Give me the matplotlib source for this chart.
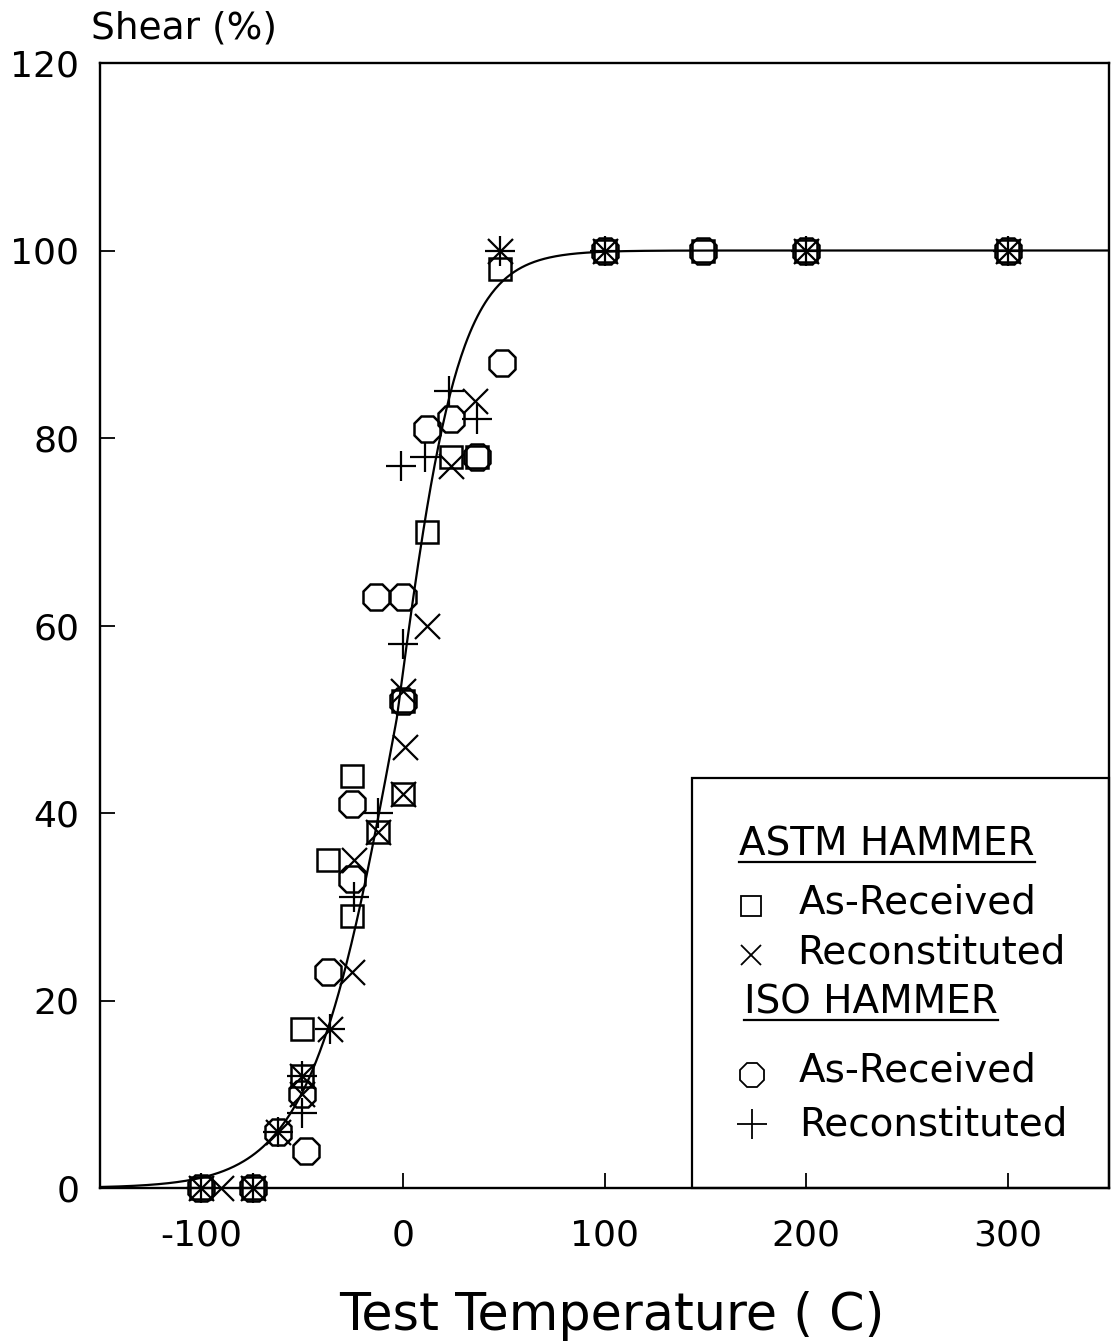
import numpy as np
import matplotlib
matplotlib.use("Agg")
import matplotlib.pyplot as plt
from matplotlib.patches import Rectangle

# ---------------- data ----------------
astm_ar_T = [-100, -74, -50, -50, -37, -25, -25, -12, 0, 0, 12, 24, 37, 48, 100, 149, 200, 300]
astm_ar_S = [0, 0, 17, 12, 35, 44, 29, 38, 42, 52, 70, 78, 78, 98, 100, 100, 100, 100]

astm_rc_T = [-100, -90, -74, -62, -50, -50, -36, -25, -24, -12, 0, 1, 0, 12, 24, 36, 48, 100, 200, 300]
astm_rc_S = [0, 0, 0, 6, 12, 10, 17, 23, 35, 38, 42, 47, 53, 60, 77, 84, 100, 100, 100, 100]

iso_ar_T = [-100, -74, -62, -48, -50, -37, -25, -25, -13, 0, 0, 12, 24, 37, 49, 100, 149, 200, 300]
iso_ar_S = [0, 0, 6, 4, 10, 23, 33, 41, 63, 63, 52, 81, 82, 78, 88, 100, 100, 100, 100]

iso_rc_T = [-100, -74, -62, -50, -50, -36, -24, -12, 0, -1, 11, 23, 37, 48, 100, 200, 300]
iso_rc_S = [0, 0, 6, 12, 8, 17, 31, 40, 58, 77, 78, 85, 82, 100, 100, 100, 100]

# tanh transition-curve fit parameters (lower shelf, upper shelf, mid temperature,
# half-width below and above the mid temperature)
fit_lower, fit_upper, fit_T0 = 0.0, 100.0, -3.0
fit_C_low, fit_C_high = 43.0, 31.0

x_ticks = [-100, 0, 100, 200, 300]
y_ticks = [0, 20, 40, 60, 80, 100, 120]

# ---------------- figure ----------------
W, H = 1113, 1343
plt.rcParams['font.family'] = ["DejaVu Sans"]
plt.rcParams['axes.unicode_minus'] = False
fig = plt.figure(figsize=(W / 100, H / 100), dpi=100)

L, R, B, T = 100, 1109, 1188, 63
ax = fig.add_axes([L / W, 1 - B / H, (R - L) / W, (B - T) / H])
ax.set_xlim(-150, 350)
ax.set_ylim(0, 120)

for s in ax.spines.values():
    s.set_linewidth(1.7)

ax.set_xticks(x_ticks)
ax.set_yticks(y_ticks)
ax.tick_params(direction='in', length=11, width=1.3, labelsize=26, top=False, right=False)
ax.tick_params(axis='x', pad=22)
ax.tick_params(axis='y', pad=15)

# fitted curve
Tc = np.linspace(-150, 350, 800)
Cc = np.where(Tc < fit_T0, fit_C_low, fit_C_high)
Sc = fit_lower + (fit_upper - fit_lower) / 2 * (1 + np.tanh((Tc - fit_T0) / Cc))
ax.plot(Tc, Sc, color='black', lw=1.6, zorder=2)

mk = dict(linestyle='none', color='black', zorder=3, clip_on=False)
ax.plot(astm_ar_T, astm_ar_S, marker='s', ms=15.5, mfc='none', mew=1.8, **mk)
ax.plot(astm_rc_T, astm_rc_S, marker='x', ms=18, mew=1.6, **mk)
ax.plot(iso_ar_T, iso_ar_S, marker='8', ms=21, mfc='none', mew=1.8, **mk)
ax.plot(iso_rc_T, iso_rc_S, marker='+', ms=22, mew=1.6, **mk)

# ---------------- legend box ----------------
def fx(px):
    return px / W

def fy(py):
    return 1 - py / H

leg_box = Rectangle((fx(692), fy(1188)), fx(1109) - fx(692), fy(778) - fy(1188),
                    transform=fig.transFigure, fill=False, lw=1.6, ec='black', zorder=5)
fig.add_artist(leg_box)

lfs = 28
hdr1 = fig.text(fx(739), fy(845), "ASTM HAMMER", fontsize=lfs, va='center', ha='left')
hdr2 = fig.text(fx(744), fy(1003), "ISO HAMMER", fontsize=lfs, va='center', ha='left')
fig.text(fx(799), fy(903), "As-Received", fontsize=lfs, va='center', ha='left')
fig.text(fx(797), fy(953), "Reconstituted", fontsize=lfs, va='center', ha='left')
fig.text(fx(799), fy(1071), "As-Received", fontsize=lfs, va='center', ha='left')
fig.text(fx(799), fy(1124), "Reconstituted", fontsize=lfs, va='center', ha='left')

lm = dict(transform=fig.transFigure, color='black', linestyle='none', clip_on=False)
fig.add_artist(plt.Line2D([fx(751)], [fy(906)], marker='s', ms=14, mfc='none', mew=1.3, **lm))
fig.add_artist(plt.Line2D([fx(751)], [fy(955)], marker='x', ms=15, mew=1.3, **lm))
fig.add_artist(plt.Line2D([fx(752)], [fy(1075)], marker='8', ms=18, mfc='none', mew=1.3, **lm))
fig.add_artist(plt.Line2D([fx(752)], [fy(1124)], marker='+', ms=22, mew=1.3, **lm))

# underline headers
fig.canvas.draw()
rend = fig.canvas.get_renderer()
for h, uy in ((hdr1, 862), (hdr2, 1020)):
    bb = h.get_window_extent(rend)
    x0, x1 = bb.x0 / W, bb.x1 / W
    fig.add_artist(plt.Line2D([x0, x1], [fy(uy), fy(uy)], transform=fig.transFigure,
                              color='black', lw=1.6))

# axis titles
fig.text(fx(91), fy(28), "Shear (%)", fontsize=27, va='center', ha='left')
fig.text(fx(612), fy(1316), "Test Temperature ( C)", fontsize=36.5, va='center', ha='center')

fig.savefig("out.png", dpi=100, facecolor='white')
